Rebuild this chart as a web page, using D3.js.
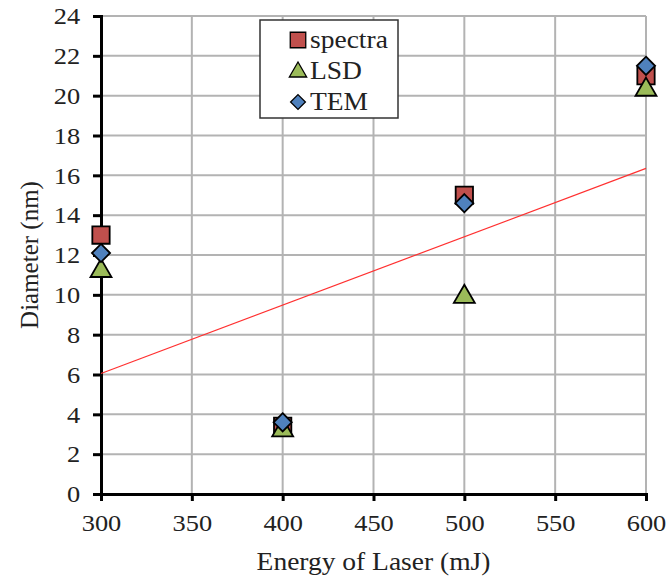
<!DOCTYPE html>
<html lang="en">
<head>
<meta charset="utf-8">
<title>Diameter vs Energy of Laser</title>
<script src="https://cdnjs.cloudflare.com/ajax/libs/d3/7.8.5/d3.min.js"></script>
<style>
  body { margin: 0; background: #fff; }
  text { font-family: "Liberation Serif", "Times New Roman", serif; fill: #222; }
</style>
</head>
<body>
<script>
var energy = [300, 400, 500, 600];
var spectra = [13.0, 3.4, 15.0, 21.0];
var lsd = [11.3, 3.3, 10.0, 20.4];
var tem = [12.1, 3.6, 14.6, 21.5];
var trendX = [300, 600];
var trendY = [6.05, 16.35];
var xTicks = [300, 350, 400, 450, 500, 550, 600];
var yTicks = [0, 2, 4, 6, 8, 10, 12, 14, 16, 18, 20, 22, 24];

var w = 667, h = 579;
var mLeft = 101, mRight = 646, mTop = 16, mBottom = 494;
var serif = "'Liberation Serif', 'Times New Roman', serif";
var stretch = "scale(1.1,1)";   // the original text is a bit wider than Times

var svg = d3.select("body").append("svg")
    .attr("width", w)
    .attr("height", h);

var x = d3.scaleLinear().domain([300, 600]).range([mLeft, mRight]);
var y = d3.scaleLinear().domain([0, 24]).range([mBottom, mTop]);

// gridlines
svg.append("g").selectAll("line")
    .data(xTicks.slice(1))
    .enter().append("line")
    .attr("x1", function(d){ return x(d); })
    .attr("x2", function(d){ return x(d); })
    .attr("y1", mTop).attr("y2", mBottom)
    .attr("stroke", "#b3b3b3").attr("stroke-width", 2);

svg.append("g").selectAll("line")
    .data(yTicks.slice(1))
    .enter().append("line")
    .attr("x1", mLeft).attr("x2", mRight)
    .attr("y1", function(d){ return y(d); })
    .attr("y2", function(d){ return y(d); })
    .attr("stroke", "#b3b3b3").attr("stroke-width", 2);

// axes
var xAxis = d3.axisBottom(x).tickValues(xTicks).tickSize(7).tickPadding(13);
var yAxis = d3.axisLeft(y).tickValues(yTicks).tickSize(8).tickPadding(11);

var gx = svg.append("g")
    .attr("transform", "translate(0," + mBottom + ")")
    .call(xAxis);
var gy = svg.append("g")
    .attr("transform", "translate(" + mLeft + ",0)")
    .call(yAxis);

[gx, gy].forEach(function(g){
    g.attr("font-family", null).attr("font-size", null);
    g.select(".domain").attr("stroke", "#000").attr("stroke-width", 3);
    g.selectAll(".tick line").attr("stroke", "#000").attr("stroke-width", 3);
    g.selectAll(".tick text")
        .attr("transform", stretch)
        .style("font-family", serif)
        .style("font-size", "24px")
        .style("fill", "#222");
});

// trend line
svg.append("line")
    .attr("x1", x(trendX[0])).attr("y1", y(trendY[0]))
    .attr("x2", x(trendX[1])).attr("y2", y(trendY[1]))
    .attr("stroke", "#ff3030").attr("stroke-width", 1.2);

// markers
var sq = d3.symbol().type(d3.symbolSquare).size(300);
var tri = d3.symbol().type(d3.symbolTriangle).size(190);
var dia = d3.symbol().type(d3.symbolDiamond2).size(210);

function drawSeries(vals, sym, fill, dy){
    svg.append("g").selectAll("path")
        .data(vals)
        .enter().append("path")
        .attr("d", sym)
        .attr("transform", function(d, i){
            return "translate(" + x(energy[i]) + "," + (y(d) + dy) + ")";
        })
        .attr("fill", fill)
        .attr("stroke", "#000")
        .attr("stroke-width", 1.8);
}
drawSeries(spectra, sq, "#c0504d", 0);
drawSeries(lsd, tri, "#9bbb59", 2);
drawSeries(tem, dia, "#4f81bd", 0);

// legend
var lg = svg.append("g").attr("transform", "translate(260,20)");
lg.append("rect")
    .attr("width", 138).attr("height", 98)
    .attr("fill", "#fff").attr("stroke", "#333").attr("stroke-width", 1.5);

var legendItems = [
    {name: "spectra", sym: d3.symbol().type(d3.symbolSquare).size(240), fill: "#c0504d", dy: 0},
    {name: "LSD", sym: d3.symbol().type(d3.symbolTriangle).size(130), fill: "#9bbb59", dy: 1},
    {name: "TEM", sym: d3.symbol().type(d3.symbolDiamond2).size(140), fill: "#4f81bd", dy: 0}
];
legendItems.forEach(function(it, i){
    var cy = 20 + i * 31;
    lg.append("path")
        .attr("d", it.sym)
        .attr("transform", "translate(38," + (cy + it.dy) + ")")
        .attr("fill", it.fill).attr("stroke", "#000").attr("stroke-width", 1.3);
    lg.append("text")
        .attr("transform", "translate(50," + (cy + 8) + ") " + stretch)
        .style("font-size", "25px")
        .text(it.name);
});

// axis titles
svg.append("text")
    .attr("transform", "translate(" + ((mLeft + mRight) / 2) + ",570) " + stretch)
    .attr("text-anchor", "middle")
    .style("font-size", "25px")
    .text("Energy of Laser (mJ)");

svg.append("text")
    .attr("transform", "translate(38," + ((mTop + mBottom) / 2) + ") rotate(-90)")
    .attr("text-anchor", "middle")
    .style("font-size", "25px")
    .text("Diameter (nm)");
</script>
</body>
</html>
